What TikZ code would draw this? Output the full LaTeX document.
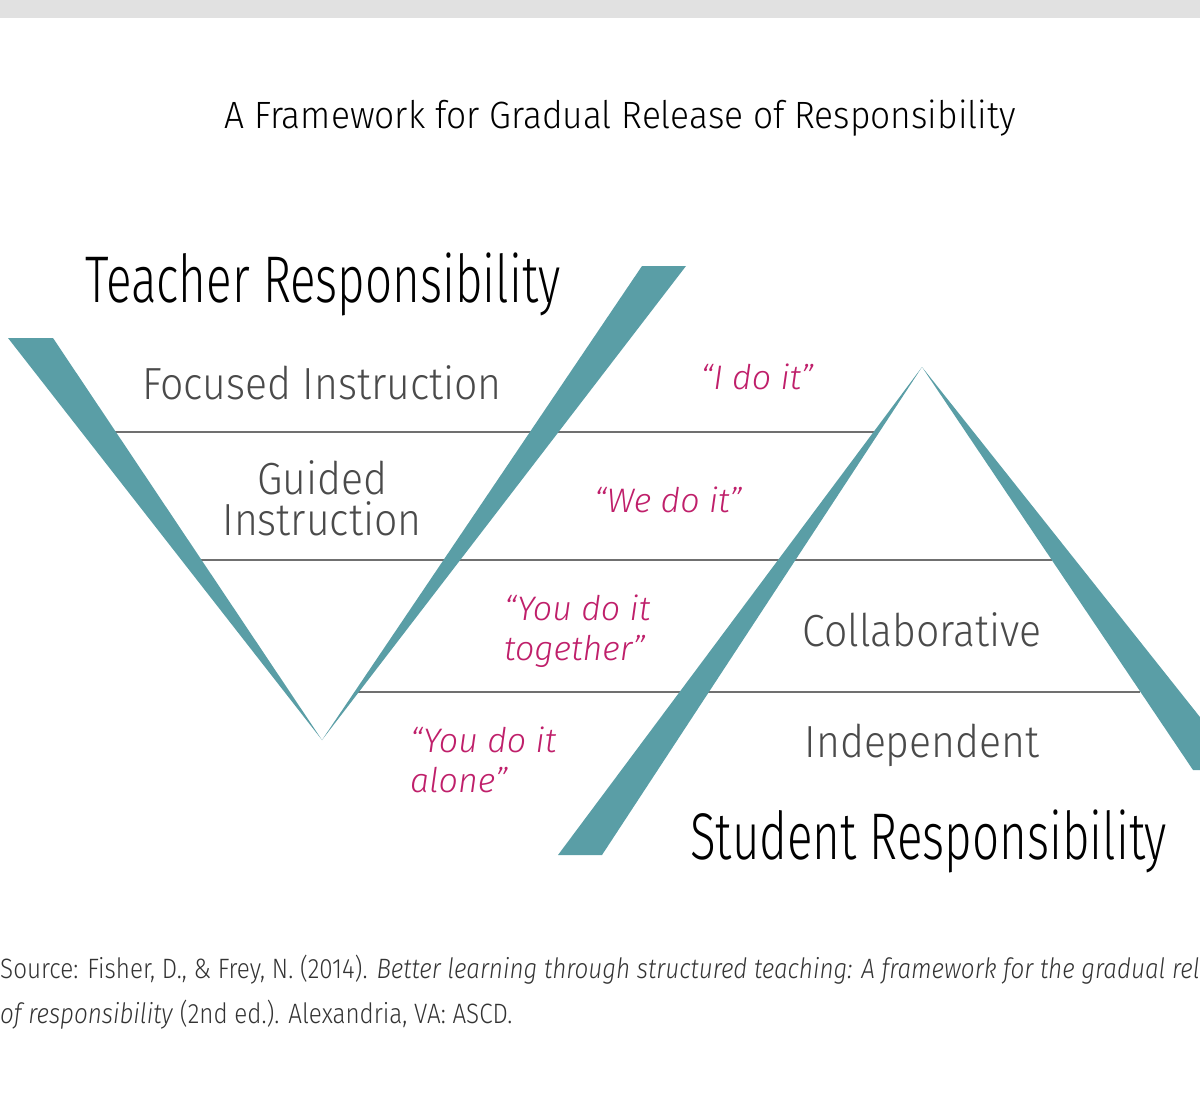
\documentclass[tikz,border=0pt]{standalone}
\usepackage{fontspec}
\setmainfont{Fira Sans Light}
\newfontfamily\titlefont[FakeStretch=0.93]{Fira Sans Light}
\newfontfamily\headfont[FakeStretch=0.72]{Fira Sans Light}
\newfontfamily\stagefont[FakeStretch=0.91]{Fira Sans Light}
\newfontfamily\notefont[FakeStretch=0.865]{Fira Sans Light}
\definecolor{wedgeblue}{HTML}{5A9EA6}
\definecolor{quotepink}{HTML}{BF1F6A}
\definecolor{rulegray}{HTML}{707070}
\definecolor{bargray}{HTML}{E1E1E1}
\definecolor{stagegray}{HTML}{4A4A4A}
\tikzset{
  wedge/.style={fill=wedgeblue},
  divider/.style={draw=rulegray, line width=1.6pt},
  stage/.style={text=stagegray, inner sep=0pt, align=center, font=\stagefont\fontsize{45}{41}\selectfont},
  say/.style={text=quotepink, inner sep=0pt, align=left, font=\itshape\fontsize{34}{40}\selectfont},
  head/.style={inner sep=0pt, anchor=base west, font=\headfont\fontsize{66}{70}\selectfont},
  note/.style={inner sep=0pt, anchor=base west, text=black!80, font=\notefont\fontsize{28}{30}\selectfont},
}

\begin{document}
\begin{tikzpicture}[x=1pt,y=-1pt]
		\useasboundingbox (0,0) rectangle (1200,1098);
		\clip (0,0) rectangle (1200,1098);
		\fill[bargray] (0,0) rectangle (1200,18);
		\node[font=\titlefont\fontsize{38}{40}\selectfont] (title) at (620,118) {A Framework for Gradual Release of Responsibility};
		% dividers, under the wedges
		\draw[divider] (115,432) to (874,432);
		\draw[divider] (201,560) to (1052,560);
		\draw[divider] (356,692) to (1140,692);
		% the V
		\fill[wedge] (8,338) -- (53,338) -- (322,740) -- cycle;
		\fill[wedge] (642,266) -- (686,266) -- (322,740) -- cycle;
		% the mountain
		\fill[wedge] (922,367) -- (602,855) -- (558,855) -- cycle;
		\fill[wedge] (922,367) -- (1242,770) -- (1193,770) -- cycle;
		\node[head] (teacher) at (85,302) {Teacher Responsibility};
		\node[head] (student) at (690,859) {Student Responsibility};
		\node[stage] (focused) at (322,383) {Focused Instruction};
		\node[stage, anchor=north] (guided) at (322,460) {Guided\\Instruction};
		\node[stage] (collab) at (922,630) {Collaborative};
		\node[stage] (indep) at (922,745) {Independent};
		\node[say] (ido) at (757,377) {“I do it”};
		\node[say] (wedo) at (668,500) {“We do it”};
		\node[say, anchor=north west] (together) at (504,595) {“You do it\\together”};
		\node[say, anchor=north west] (alone) at (410,727) {“You do it\\alone”};
		\node[note] (source) at (0,978) {Source: Fisher, D., \& Frey, N. (2014). \textit{Better learning through structured teaching: A framework for the gradual rel}};
		\node[note] (publisher) at (0,1023) {\textit{of responsibility} (2nd ed.). Alexandria, VA: ASCD.};
	\end{tikzpicture}
\end{document}
